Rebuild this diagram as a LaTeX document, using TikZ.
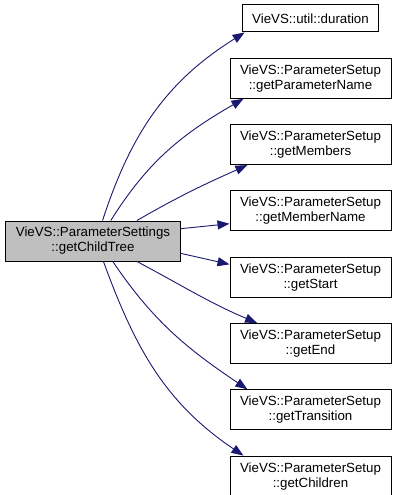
\documentclass[tikz,border=0pt]{standalone}
\usepackage{fontspec}
\setmainfont{Liberation Sans}
\usetikzlibrary{arrows.meta,positioning}
\definecolor{callblue}{HTML}{191970}

\begin{document}
\begin{tikzpicture}[x=1pt,y=-1pt,node distance=25.3pt,font=\fontsize{13.3}{15}\selectfont]
\tikzset{
  cur/.style={draw=black,line width=1pt,fill=gray!50,align=center,inner xsep=10pt,inner ysep=0pt,minimum height=40pt},
  fn/.style={draw=black,line width=1pt,fill=white,align=center,inner xsep=10pt,inner ysep=0pt,minimum height=40pt,minimum width=161pt},
  call/.style={-{Triangle[length=12pt,width=9pt]},line width=0.9pt,draw=callblue,fill=none}
}
\useasboundingbox (0,0) rectangle (397,495);
\node(gct)[cur] at (93,241){VieVS::ParameterSettings\\::getChildTree};
\node(dur)[fn,minimum width=0pt,minimum height=27pt] at (310.5,18.5){VieVS::util::duration};
\node(pn)[fn,below=of dur]{VieVS::ParameterSetup\\::getParameterName};
\node(mem)[fn,below=of pn]{VieVS::ParameterSetup\\::getMembers};
\node(mn)[fn,below=of mem]{VieVS::ParameterSetup\\::getMemberName};
\node(st)[fn,below=of mn]{VieVS::ParameterSetup\\::getStart};
\node(en)[fn,below=of st]{VieVS::ParameterSetup\\::getEnd};
\node(tr)[fn,below=of en]{VieVS::ParameterSetup\\::getTransition};
\node(ch)[fn,below=of tr]{VieVS::ParameterSetup\\::getChildren};
% calls out of getChildTree
\draw[call](gct.65.8) to[out=72,in=212] (dur.192.6);
\draw[call](gct.49.6) to[out=58,in=210] (pn.197.5);
\draw[call](gct.25.5) to[out=30,in=204] (mem.198.3);
\draw[call](gct.8.4) -- (mn.189.5);
\draw[call](gct.-8.4) -- (st.171.7);
\draw[call](gct.-25.5) to[out=-28,in=157] (en.159.1);
\draw[call](gct.-46.5) to[out=-56,in=146] (tr.162.3);
\draw[call](gct.-63.4) to[out=-70,in=146] (ch.163);
\end{tikzpicture}
\end{document}
